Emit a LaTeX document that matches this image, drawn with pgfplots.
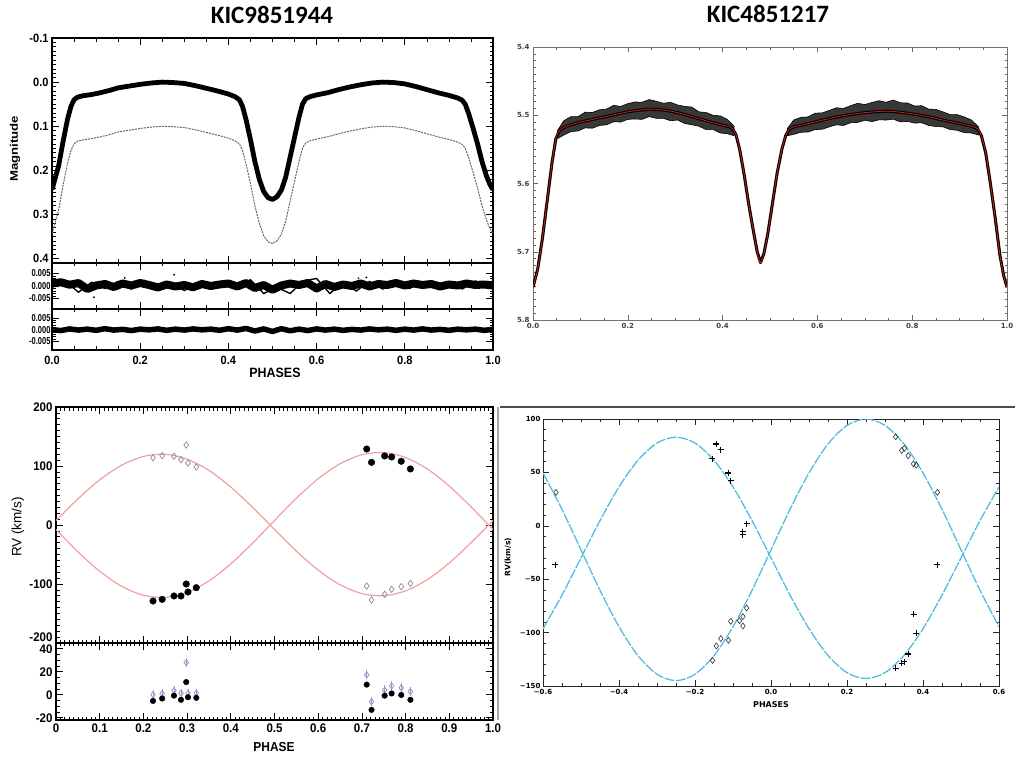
\documentclass[border=0pt]{standalone}
\usepackage{fontspec}
\setmainfont{Liberation Sans}
\newfontfamily\idl{Liberation Sans}[FakeStretch=0.92]
\newfontfamily\idlres{Liberation Sans}[FakeStretch=0.75]
\newfontfamily\idlwide{Liberation Sans}[FakeStretch=1.2]
\newfontfamily\carl{Carlito}
\newfontfamily\dvs{DejaVu Sans}
\usepackage{pgfplots}
\pgfplotsset{compat=1.18}

\definecolor{rvpink}{RGB}{240,160,160}
\definecolor{rvcyan}{RGB}{80,190,220}
\definecolor{lav}{RGB}{150,150,205}
\definecolor{modred}{RGB}{205,30,30}

\newcommand\ftl{\idl\bfseries\fontsize{12}{13}\selectfont}
\newcommand\fres{\idlres\bfseries\fontsize{10}{11}\selectfont}
\newcommand\ftiny{\dvs\bfseries\fontsize{7}{8}\selectfont}

\pgfplotsset{
  idl/.style={scale only axis, anchor=south west,
    axis line style={line width=1.1pt},
    tick style={line width=0.7pt, black},
    major tick length=7pt, minor tick length=3.5pt,
    tick align=inside, xtick pos=both, ytick pos=both,
    scaled ticks=false},
}

\begin{document}
\begin{tikzpicture}
\useasboundingbox (0pt,0pt) rectangle (1015pt,756pt);

% ---------- top left: KIC9851944 light curve
\begin{axis}[idl, at={(52pt,493pt)}, width=441pt, height=225pt,
  xmin=0, xmax=1, ymin=-0.1, ymax=0.41, y dir=reverse,
  xtick={0,0.2,0.4,0.6,0.8,1}, xticklabels={}, minor x tick num=3,
  ytick={-0.1,0,0.1,0.2,0.3,0.4}, yticklabels={-0.1,0.0,0.1,0.2,0.3,0.4},
  minor y tick num=9, yticklabel style={font=\ftl}]
\addplot[black!60, line width=1pt, dash pattern=on 2pt off 1pt] coordinates {
 (0.000,0.344) (0.008,0.315) (0.015,0.290) (0.025,0.235) (0.035,0.185)
 (0.043,0.155) (0.050,0.140) (0.058,0.134) (0.070,0.131) (0.090,0.128)
 (0.110,0.124) (0.130,0.119) (0.150,0.113) (0.175,0.109) (0.200,0.105)
 (0.225,0.102) (0.250,0.100) (0.275,0.101) (0.300,0.103) (0.325,0.108)
 (0.350,0.114) (0.375,0.120) (0.400,0.127) (0.415,0.133) (0.425,0.140)
 (0.432,0.155) (0.440,0.185) (0.450,0.230) (0.460,0.280) (0.470,0.320)
 (0.480,0.348) (0.490,0.362) (0.500,0.366) (0.510,0.360) (0.520,0.345)
 (0.530,0.315) (0.540,0.270) (0.550,0.225) (0.560,0.180) (0.568,0.150)
 (0.575,0.138) (0.585,0.133) (0.600,0.129) (0.625,0.124) (0.650,0.117)
 (0.675,0.111) (0.700,0.106) (0.725,0.102) (0.750,0.100) (0.775,0.101)
 (0.800,0.104) (0.825,0.110) (0.850,0.117) (0.875,0.124) (0.900,0.130)
 (0.920,0.136) (0.930,0.141) (0.937,0.150) (0.945,0.172) (0.955,0.205)
 (0.965,0.240) (0.975,0.280) (0.985,0.312) (0.993,0.332) (1.000,0.344)};
\addplot[black, line width=4.8pt, line join=round] coordinates {
 (0.000,0.244) (0.008,0.215) (0.015,0.190) (0.025,0.135) (0.035,0.085)
 (0.043,0.055) (0.050,0.040) (0.058,0.034) (0.070,0.031) (0.090,0.028)
 (0.110,0.024) (0.130,0.019) (0.150,0.013) (0.175,0.009) (0.200,0.005)
 (0.225,0.002) (0.250,0.000) (0.275,0.001) (0.300,0.003) (0.325,0.008)
 (0.350,0.014) (0.375,0.020) (0.400,0.027) (0.415,0.033) (0.425,0.040)
 (0.432,0.055) (0.440,0.085) (0.450,0.130) (0.460,0.180) (0.470,0.220)
 (0.480,0.248) (0.490,0.262) (0.500,0.266) (0.510,0.260) (0.520,0.245)
 (0.530,0.215) (0.540,0.170) (0.550,0.125) (0.560,0.080) (0.568,0.050)
 (0.575,0.038) (0.585,0.033) (0.600,0.029) (0.625,0.024) (0.650,0.017)
 (0.675,0.011) (0.700,0.006) (0.725,0.002) (0.750,0.000) (0.775,0.001)
 (0.800,0.004) (0.825,0.010) (0.850,0.017) (0.875,0.024) (0.900,0.030)
 (0.920,0.036) (0.930,0.041) (0.937,0.050) (0.945,0.072) (0.955,0.105)
 (0.965,0.140) (0.975,0.180) (0.985,0.212) (0.993,0.232) (1.000,0.244)};
\end{axis}

% residuals 1
\begin{axis}[idl, at={(52pt,447pt)}, width=441pt, height=46pt,
  xmin=0, xmax=1, ymin=-0.0092, ymax=0.0092,
  xtick={0,0.2,0.4,0.6,0.8,1}, xticklabels={}, minor x tick num=3,
  ytick={-0.005,0,0.005}, yticklabels={-0.005,0.000,0.005},
  minor y tick num=4, yticklabel style={font=\fres, xshift=2pt}]
\addplot[black, line width=8pt, line join=round] coordinates {
 (0.00,0.0010) (0.02,0.0015) (0.04,0.0005) (0.06,0.0012) (0.08,-0.0012)
 (0.10,0.0002) (0.12,0.0008) (0.14,-0.0004) (0.16,0.0010) (0.18,0.0002)
 (0.20,0.0012) (0.22,0.0004) (0.24,-0.0006) (0.26,0.0006) (0.28,-0.0002)
 (0.30,0.0004) (0.32,-0.0005) (0.34,0.0008) (0.36,0.0000) (0.38,0.0006)
 (0.40,0.0010) (0.42,-0.0002) (0.44,0.0012) (0.46,-0.0008) (0.48,0.0004)
 (0.50,-0.0015) (0.52,0.0002) (0.54,0.0010) (0.56,0.0004) (0.58,0.0012)
 (0.60,-0.0010) (0.62,0.0008) (0.64,-0.0004) (0.66,0.0006) (0.68,0.0000)
 (0.70,0.0010) (0.72,-0.0002) (0.74,0.0008) (0.76,0.0004) (0.78,0.0012)
 (0.80,0.0002) (0.82,0.0010) (0.84,0.0004) (0.86,0.0008) (0.88,-0.0002)
 (0.90,0.0006) (0.92,0.0002) (0.94,0.0010) (0.96,0.0004) (0.98,0.0006)
 (1.00,0.0002)};
\addplot[black, line width=1.4pt] coordinates {
 (0.00,-0.0005) (0.03,0.0020) (0.06,-0.0025) (0.09,0.0015) (0.12,-0.0010)
 (0.15,0.0018) (0.18,-0.0012) (0.21,0.0022) (0.24,-0.0015) (0.27,0.0012)
 (0.30,-0.0018) (0.33,0.0010) (0.36,-0.0012) (0.39,0.0020) (0.42,-0.0010)
 (0.45,0.0025) (0.48,-0.0030) (0.51,-0.0005) (0.54,-0.0030) (0.57,0.0020)
 (0.60,0.0030) (0.63,-0.0030) (0.66,0.0015) (0.69,-0.0020) (0.72,0.0018)
 (0.75,-0.0012) (0.78,0.0020) (0.81,-0.0010) (0.84,0.0015) (0.87,-0.0008)
 (0.90,0.0018) (0.93,-0.0012) (0.96,0.0020) (1.00,-0.0010)};
\addplot[only marks, mark=*, mark size=0.7pt, black] coordinates {
 (0.277,0.0045) (0.165,0.0032) (0.095,-0.0045) (0.713,0.0034) (0.695,0.0031)};
\end{axis}

% residuals 2
\begin{axis}[idl, at={(52pt,406pt)}, width=441pt, height=41pt,
  xmin=0, xmax=1, ymin=-0.0087, ymax=0.0088,
  xtick={0,0.2,0.4,0.6,0.8,1}, xticklabels={0.0,0.2,0.4,0.6,0.8,1.0},
  minor x tick num=3, xticklabel style={font=\ftl, yshift=-3pt},
  ytick={-0.005,0,0.005}, yticklabels={-0.005,0.000,0.005},
  minor y tick num=4, yticklabel style={font=\fres, xshift=2pt}]
\addplot[black, line width=5.5pt, line join=round] coordinates {
 (0.00,0.0000) (0.02,-0.0004) (0.04,0.0003) (0.06,-0.0002) (0.08,0.0002)
 (0.10,-0.0003) (0.12,0.0004) (0.14,-0.0002) (0.16,0.0001) (0.18,-0.0004)
 (0.20,0.0002) (0.22,-0.0001) (0.24,0.0003) (0.26,-0.0003) (0.28,0.0002)
 (0.30,-0.0002) (0.32,0.0003) (0.34,-0.0001) (0.36,0.0002) (0.38,-0.0003)
 (0.40,0.0004) (0.42,-0.0002) (0.44,0.0005) (0.46,-0.0006) (0.48,0.0003)
 (0.50,-0.0008) (0.52,0.0004) (0.54,-0.0005) (0.56,0.0002) (0.58,-0.0004)
 (0.60,0.0003) (0.62,-0.0002) (0.64,0.0002) (0.66,-0.0003) (0.68,0.0001)
 (0.70,-0.0002) (0.72,0.0003) (0.74,-0.0001) (0.76,0.0002) (0.78,-0.0003)
 (0.80,0.0002) (0.82,-0.0002) (0.84,0.0003) (0.86,-0.0002) (0.88,0.0001)
 (0.90,-0.0003) (0.92,0.0002) (0.94,-0.0001) (0.96,0.0002) (0.98,-0.0003)
 (1.00,0.0001)};
\end{axis}

\node[font=\carl\bfseries\fontsize{25}{25}\selectfont] at (272pt,741pt) {KIC9851944};
\node[rotate=90, font=\idlwide\bfseries\fontsize{11}{12}\selectfont] at (15pt,607pt) {Magnitude};
\node[font=\idl\bfseries\fontsize{13.5}{14}\selectfont] at (275pt,383pt) {PHASES};

% ---------- top right: KIC4851217 light curve
\begin{axis}[idl, at={(533pt,436pt)}, width=474pt, height=273pt,
  axis line style={line width=0.8pt, black!55}, tick style={line width=0.5pt, black!60},
  major tick length=5pt, minor tick length=2.5pt,
  xmin=0, xmax=1, ymin=5.4, ymax=5.8, y dir=reverse,
  xtick={0,0.2,0.4,0.6,0.8,1}, xticklabels={0.0,0.2,0.4,0.6,0.8,1.0}, minor x tick num=3,
  ytick={5.4,5.5,5.6,5.7,5.8}, yticklabels={5.4,5.5,5.6,5.7,5.8}, minor y tick num=9,
  ticklabel style={font=\ftiny, text=black!75}]
% scatter band of the observations (upper edge, then lower edge backwards)
\addplot[fill=black!78, draw=black, line width=0.6pt] coordinates {
 (0.052,5.522) (0.065,5.508) (0.08,5.502) (0.095,5.502) (0.11,5.4955)
 (0.125,5.496) (0.14,5.492) (0.155,5.491) (0.17,5.4855) (0.185,5.487)
 (0.20,5.483) (0.215,5.4805) (0.23,5.481) (0.245,5.477) (0.26,5.4795)
 (0.275,5.4825) (0.29,5.481) (0.305,5.485) (0.32,5.487) (0.335,5.488)
 (0.35,5.495) (0.365,5.496) (0.38,5.500) (0.395,5.501) (0.41,5.506) (0.424,5.516)
 (0.424,5.530) (0.41,5.527) (0.395,5.526) (0.38,5.521) (0.365,5.521)
 (0.35,5.516) (0.335,5.514) (0.32,5.512) (0.305,5.507) (0.29,5.508)
 (0.275,5.5045) (0.26,5.5045) (0.245,5.502) (0.23,5.506) (0.215,5.5055)
 (0.20,5.506) (0.185,5.510) (0.17,5.5095) (0.155,5.514) (0.14,5.515)
 (0.125,5.519) (0.11,5.5185) (0.095,5.523) (0.08,5.524) (0.065,5.529) (0.052,5.534)
 (0.052,5.522)};
\addplot[fill=black!78, draw=black, line width=0.6pt] coordinates {
 (0.537,5.519) (0.55,5.507) (0.565,5.503) (0.58,5.5025) (0.595,5.497)
 (0.61,5.4965) (0.625,5.493) (0.64,5.489) (0.655,5.490) (0.67,5.486)
 (0.685,5.4825) (0.70,5.4843) (0.715,5.4813) (0.73,5.4787) (0.745,5.481)
 (0.76,5.4777) (0.775,5.4817) (0.79,5.482) (0.805,5.4865) (0.82,5.486)
 (0.835,5.491) (0.85,5.4915) (0.865,5.495) (0.88,5.499) (0.895,5.499)
 (0.91,5.5025) (0.925,5.507) (0.94,5.517)
 (0.94,5.529) (0.925,5.526) (0.91,5.5255) (0.895,5.522) (0.88,5.521)
 (0.865,5.517) (0.85,5.5165) (0.835,5.515) (0.82,5.511) (0.805,5.5115)
 (0.79,5.509) (0.775,5.5097) (0.76,5.5057) (0.745,5.507) (0.73,5.5067)
 (0.715,5.5093) (0.70,5.5073) (0.685,5.5105) (0.67,5.511) (0.655,5.515)
 (0.64,5.514) (0.625,5.517) (0.61,5.5205) (0.595,5.521) (0.58,5.5245)
 (0.565,5.525) (0.55,5.528) (0.537,5.530) (0.537,5.519)};
\addplot[black, line width=3pt, line join=round] coordinates {
 (0.000,5.752) (0.010,5.725) (0.020,5.680) (0.030,5.625) (0.040,5.570)
 (0.048,5.535) (0.055,5.523) (0.065,5.518) (0.080,5.514) (0.100,5.510)
 (0.120,5.507) (0.140,5.504) (0.160,5.501) (0.180,5.498) (0.200,5.495)
 (0.220,5.493) (0.245,5.491) (0.270,5.492) (0.290,5.494) (0.310,5.497)
 (0.330,5.501) (0.350,5.505) (0.370,5.509) (0.390,5.513) (0.410,5.516)
 (0.420,5.519) (0.428,5.528) (0.436,5.550) (0.445,5.585) (0.455,5.630)
 (0.465,5.670) (0.473,5.700) (0.480,5.716) (0.487,5.703) (0.495,5.675)
 (0.505,5.630) (0.515,5.585) (0.525,5.550) (0.533,5.530) (0.540,5.521)
 (0.550,5.517) (0.570,5.514) (0.600,5.509) (0.630,5.504) (0.660,5.500)
 (0.690,5.497) (0.720,5.495) (0.750,5.494) (0.780,5.496) (0.810,5.499)
 (0.840,5.503) (0.870,5.508) (0.900,5.512) (0.925,5.516) (0.938,5.520)
 (0.946,5.530) (0.955,5.555) (0.965,5.600) (0.975,5.650) (0.985,5.705)
 (0.993,5.735) (1.000,5.752)};
\addplot[modred, line width=0.8pt, smooth] coordinates {
 (0.000,5.752) (0.010,5.725) (0.020,5.680) (0.030,5.625) (0.040,5.570)
 (0.048,5.535) (0.055,5.523) (0.065,5.518) (0.080,5.514) (0.100,5.510)
 (0.120,5.507) (0.140,5.504) (0.160,5.501) (0.180,5.498) (0.200,5.495)
 (0.220,5.493) (0.245,5.491) (0.270,5.492) (0.290,5.494) (0.310,5.497)
 (0.330,5.501) (0.350,5.505) (0.370,5.509) (0.390,5.513) (0.410,5.516)
 (0.420,5.519) (0.428,5.528) (0.436,5.550) (0.445,5.585) (0.455,5.630)
 (0.465,5.670) (0.473,5.700) (0.480,5.716) (0.487,5.703) (0.495,5.675)
 (0.505,5.630) (0.515,5.585) (0.525,5.550) (0.533,5.530) (0.540,5.521)
 (0.550,5.517) (0.570,5.514) (0.600,5.509) (0.630,5.504) (0.660,5.500)
 (0.690,5.497) (0.720,5.495) (0.750,5.494) (0.780,5.496) (0.810,5.499)
 (0.840,5.503) (0.870,5.508) (0.900,5.512) (0.925,5.516) (0.938,5.520)
 (0.946,5.530) (0.955,5.555) (0.965,5.600) (0.975,5.650) (0.985,5.705)
 (0.993,5.735) (1.000,5.752)};
\end{axis}

\node[font=\carl\bfseries\fontsize{25}{25}\selectfont] at (768pt,742pt) {KIC4851217};

% ---------- bottom left: RV curve of KIC9851944
\begin{axis}[idl, at={(56pt,113pt)}, width=437pt, height=236pt,
  xmin=0, xmax=1, ymin=-200, ymax=200,
  xtick={0,0.1,0.2,0.3,0.4,0.5,0.6,0.7,0.8,0.9,1}, xticklabels={}, minor x tick num=9,
  ytick={-200,-100,0,100,200},
  yticklabels={\raisebox{1.5pt}[0pt][0pt]{-200},-100,0,100,200}, minor y tick num=9,
  yticklabel style={font=\idl\bfseries\fontsize{12.5}{13}\selectfont}]
\addplot[rvpink, line width=1.2pt, smooth] coordinates {
 (0,7.5) (0.05,44.2) (0.10,76.5) (0.15,101.3) (0.20,116.2) (0.25,119.8)
 (0.30,111.6) (0.35,92.5) (0.40,64.3) (0.45,29.8) (0.50,-7.5) (0.55,-44.2)
 (0.60,-76.5) (0.65,-101.3) (0.70,-116.2) (0.75,-119.8) (0.80,-111.6)
 (0.85,-92.5) (0.90,-64.3) (0.95,-29.8) (1.0,7.5)};
\addplot[rvpink, line width=1.2pt, smooth] coordinates {
 (0,-7.7) (0.05,-45.3) (0.10,-78.4) (0.15,-103.8) (0.20,-119.1) (0.25,-122.8)
 (0.30,-114.4) (0.35,-94.8) (0.40,-65.9) (0.45,-30.6) (0.50,7.7) (0.55,45.3)
 (0.60,78.4) (0.65,103.8) (0.70,119.1) (0.75,122.8) (0.80,114.4)
 (0.85,94.8) (0.90,65.9) (0.95,30.6) (1.0,-7.7)};
\addplot[only marks, mark=diamond, mark size=3.2pt, mark options={draw=black!45, line width=0.7pt}] coordinates {
 (0.222,114) (0.243,117.5) (0.270,116.4) (0.286,110.7) (0.298,135.6) (0.302,105) (0.321,98.3)
 (0.711,-103.4) (0.722,-127) (0.752,-117.5) (0.768,-109) (0.79,-104.5) (0.811,-98.9)};
\addplot[only marks, mark=*, mark size=3.3pt, black] coordinates {
 (0.222,-128.8) (0.243,-126) (0.270,-120.3) (0.286,-120.3) (0.298,-100) (0.302,-113.6) (0.321,-106.2)
 (0.711,128.8) (0.722,106.2) (0.752,117) (0.768,115.3) (0.79,108) (0.811,95)};
\end{axis}

\begin{axis}[idl, at={(56pt,36pt)}, width=437pt, height=77pt,
  xmin=0, xmax=1, ymin=-22, ymax=45,
  xtick={0,0.1,0.2,0.3,0.4,0.5,0.6,0.7,0.8,0.9,1},
  xticklabels={0,0.1,0.2,0.3,0.4,0.5,0.6,0.7,0.8,0.9,1.0}, minor x tick num=9,
  ytick={-20,0,20,40}, yticklabels={-20,0,20,40}, minor y tick num=3,
  ticklabel style={font=\idl\bfseries\fontsize{12.5}{13}\selectfont}]
\addplot[only marks, mark=diamond, mark size=3pt, lav, mark options={line width=0.8pt},
  error bars/.cd, y dir=both, y fixed=4, error mark=none,
  error bar style={lav, line width=0.8pt}] coordinates {
 (0.222,0) (0.243,1) (0.270,3.6) (0.286,1.4) (0.298,28) (0.302,1.4) (0.321,1.4)
 (0.711,17.3) (0.722,-6) (0.752,4.1) (0.768,7.7) (0.79,6.1) (0.811,2.8)};
\addplot[only marks, mark=*, mark size=2.8pt, black] coordinates {
 (0.222,-5.4) (0.243,-3.3) (0.270,-0.8) (0.286,-4.4) (0.298,11) (0.302,-2.2) (0.321,-2.7)
 (0.711,8.8) (0.722,-13.2) (0.752,-0.8) (0.768,1.1) (0.79,-0.2) (0.811,-4.4)};
\end{axis}

\node[rotate=90, font=\fontsize{13.5}{14}\selectfont] at (18pt,229pt) {RV (km/s)};
\node[font=\idl\bfseries\fontsize{13}{14}\selectfont] at (274pt,8.5pt) {PHASE};

% ---------- bottom right: RV curve of KIC4851217
\begin{axis}[idl, at={(543pt,70pt)}, width=456pt, height=267pt,
  axis line style={line width=1pt, black!85}, tick style={line width=0.6pt, black!85},
  major tick length=6pt, minor tick length=3pt,
  xmin=-0.6, xmax=0.6, ymin=-150, ymax=100,
  xtick={-0.6,-0.4,-0.2,0,0.2,0.4,0.6}, xticklabels={−0.6,−0.4,−0.2,0.0,0.2,0.4,0.6},
  minor x tick num=3,
  ytick={-150,-100,-50,0,50,100}, yticklabels={−150,−100,−50,0,50,100}, minor y tick num=4,
  ticklabel style={font=\ftiny}, yticklabel style={xshift=1pt}]
\addplot[rvcyan, line width=1.3pt, smooth, dash pattern=on 10pt off 1.5pt] coordinates {
 (-0.60,49.5) (-0.55,15.4) (-0.50,-22.5) (-0.45,-60.4) (-0.40,-94.5) (-0.35,-121.6)
 (-0.30,-139.0) (-0.25,-145) (-0.20,-139.0) (-0.15,-121.6) (-0.10,-94.5) (-0.05,-60.4)
 (0,-22.5) (0.05,15.4) (0.10,49.5) (0.15,76.6) (0.20,94.0) (0.25,100) (0.30,94.0)
 (0.35,76.6) (0.40,49.5) (0.45,15.4) (0.50,-22.5) (0.55,-60.4) (0.60,-94.5)};
\addplot[rvcyan, line width=1.3pt, smooth, dash pattern=on 10pt off 1.5pt] coordinates {
 (-0.60,-96.4) (-0.55,-64.9) (-0.50,-30) (-0.45,4.9) (-0.40,36.4) (-0.35,61.4)
 (-0.30,77.5) (-0.25,83) (-0.20,77.5) (-0.15,61.4) (-0.10,36.4) (-0.05,4.9)
 (0,-30) (0.05,-64.9) (0.10,-96.4) (0.15,-121.4) (0.20,-137.5) (0.25,-143)
 (0.30,-137.5) (0.35,-121.4) (0.40,-96.4) (0.45,-64.9) (0.50,-30) (0.55,4.9) (0.60,36.4)};
\addplot[only marks, mark=diamond, mark size=3pt, mark options={draw=black!80, line width=0.6pt}] coordinates {
 (-0.566,31.3) (-0.154,-126) (-0.144,-112.5) (-0.132,-105.6) (-0.112,-107.2) (-0.106,-89.4)
 (-0.083,-88.8) (-0.074,-85) (-0.074,-93.8) (-0.064,-76.9)
 (0.328,83.4) (0.344,70.6) (0.351,72.5) (0.361,65.6) (0.375,58) (0.382,56.9) (0.438,31.3)};
\addplot[only marks, mark=+, mark size=3pt, mark options={black, line width=1.1pt}] coordinates {
 (-0.568,-36.3) (-0.154,62.8) (-0.144,76.6) (-0.132,71.3) (-0.112,49.4) (-0.106,42.2)
 (-0.074,-5.5) (-0.074,-8.4) (-0.064,1.9)
 (0.328,-133.4) (0.344,-128.8) (0.351,-127.2) (0.361,-120) (0.375,-82.8) (0.382,-100.6) (0.438,-36.3)};
\end{axis}

\node[rotate=90, font=\dvs\bfseries\fontsize{7.5}{8}\selectfont] at (508pt,199pt) {RV(km/s)};
\node[font=\dvs\bfseries\fontsize{8}{9}\selectfont] at (771pt,51pt) {PHASES};

% frame remnants of the composite
\draw[black!70, line width=2pt] (500pt,349pt) -- (1015pt,349pt);
\draw[black!35, line width=2.5pt] (498pt,36pt) -- (498pt,349pt);
\end{tikzpicture}
\end{document}
